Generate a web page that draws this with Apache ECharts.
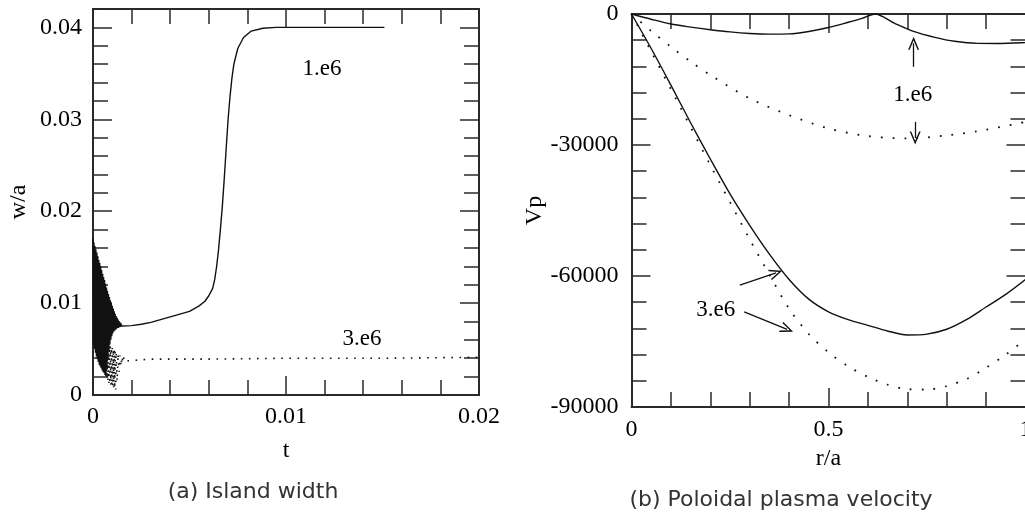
<!DOCTYPE html>
<html>
<head>
<meta charset="utf-8">
<script src="https://cdn.jsdelivr.net/npm/echarts@6/dist/echarts.min.js"></script>
<style>
html,body{margin:0;padding:0;background:#fff;}
#chart{width:1025px;height:517px;}
</style>
</head>
<body>
<div id="chart"></div>
<script>
// ---------- DATA ----------
// (a) Island width: w/a versus t
const islandXTicks = [0, 0.01, 0.02];
const islandYTicks = [0, 0.01, 0.02, 0.03, 0.04];
const t1e6 = [0,0.000025,0.00005,0.000075,0.0001,0.000125,0.00015,0.000175,0.0002,0.000225,0.00025,0.000275,0.0003,0.000325,0.00035,0.000375,
  0.0004,0.000425,0.00045,0.000475,0.0005,0.000525,0.00055,0.000575,0.0006,0.000625,0.00065,0.000675,0.0007,0.000725,0.00075,0.000775,
  0.0008,0.000825,0.00085,0.000875,0.0009,0.000925,0.00095,0.000975,0.001,0.001025,0.00105,0.001075,0.0011,0.001125,0.00115,0.001175,
  0.0012,0.001225,0.00125,0.001275,0.0013,0.001325,0.00135,0.001375,0.0014,0.001425,0.00145,0.001475,0.0015,0.001525,0.00155,0.001575,0.0016,
  0.002,0.0025,0.003,0.0035,0.004,0.0045,0.005,0.0055,0.0058,0.006,0.0062,0.0063,0.0064,0.0065,0.0066,0.0067,0.0068,0.0069,0.007,0.0071,0.0072,0.0073,0.0075,0.0078,0.0082,0.0088,0.0095,0.012,0.0151];
const w1e6 = [0.0170,0.0055,0.0166,0.0050,0.0162,0.0046,0.01585,0.0042,0.0155,0.0039,0.0151,0.0036,0.0147,0.0033,0.01435,0.0031,
  0.0140,0.0029,0.0136,0.0027,0.0132,0.0025,0.01285,0.0024,0.0125,0.0022,0.0121,0.0021,0.0117,0.0030,0.01135,0.0040,
  0.0110,0.0048,0.01065,0.0055,0.0103,0.0060,0.0100,0.0064,0.0097,0.0067,0.0094,0.0069,0.0091,0.0070,0.00885,0.0071,
  0.0086,0.0072,0.0084,0.0073,0.0082,0.0073,0.00805,0.0074,0.0079,0.0074,0.0078,0.0075,0.0077,0.0075,0.0076,0.0075,0.0075,
  0.00755,0.0077,0.0079,0.0082,0.0085,0.0088,0.0091,0.0097,0.0102,0.0108,0.0116,0.0125,0.0139,0.0157,0.0180,0.0205,0.0235,0.0268,0.0300,0.0325,0.0345,0.0360,0.0377,0.0389,0.0396,0.0399,0.0400,0.0400,0.0400];
const t3e6 = [0.0004,0.000425,0.00045,0.000475,0.0005,0.000525,0.00055,0.000575,0.0006,0.000625,0.00065,0.000675,0.0007,0.000725,0.00075,0.000775,0.0008,0.000825,0.00085,0.000875,0.0009,0.000925,0.00095,0.000975,0.001,0.001025,0.00105,0.001075,0.0011,0.001125,0.00115,0.001175,0.0012,0.00125,0.0013,0.00135,0.0014,0.00145,0.0015,0.00155,0.0016,0.00165,0.00175,0.003,0.006,0.01,0.015,0.02];
const w3e6 = [0.0060,0.0032,0.0059,0.0030,0.0058,0.0027,0.0058,0.0025,0.0057,0.0022,0.0057,0.0020,0.0056,0.0017,0.0056,0.0015,0.0055,0.0013,0.0054,0.0012,0.0053,0.0011,0.0052,0.0010,0.0051,0.0009,0.0050,0.0008,0.0049,0.0007,0.0048,0.0006,0.0047,0.0015,0.0045,0.0025,0.0043,0.0031,0.0042,0.0035,0.0041,0.0037,0.0039,0.0039,0.0039,0.0040,0.0040,0.0041];

// (b) Poloidal plasma velocity: Vp versus r/a
const velXTicks = [0, 0.5, 1];
const velYTicks = [-90000, -60000, -30000, 0];
const rSolid1e6 = [0,0.05,0.1,0.15,0.2,0.25,0.3,0.35,0.4,0.45,0.5,0.55,0.585,0.618,0.668,0.718,0.77,0.82,0.878,0.93,0.988,1.0];
const vSolid1e6 = [0,-1200,-2300,-3000,-3600,-4100,-4450,-4600,-4550,-4000,-3100,-1900,-1000,0,-2140,-4050,-5350,-6250,-6720,-6750,-6570,-6550];
const rDot1e6 = [0,0.05,0.1,0.15,0.2,0.3,0.4,0.5,0.6,0.7,0.8,0.9,1.0];
const vDot1e6 = [0,-3900,-7490,-10900,-13980,-19330,-23150,-26200,-27960,-28500,-27800,-26500,-24700];
const rGrid = [0,0.05,0.1,0.15,0.2,0.25,0.3,0.35,0.4,0.45,0.5,0.55,0.6,0.65,0.7,0.75,0.8,0.85,0.9,0.95,1.0];
const vSolid3e6 = [0,-7900,-16300,-24900,-33200,-41200,-48400,-55000,-60800,-65300,-68200,-70000,-71300,-72600,-73500,-73300,-72200,-70000,-67100,-64200,-60800];
const vDot3e6 = [0,-8600,-17200,-25900,-34600,-43100,-51600,-59700,-67500,-73300,-77500,-80700,-83100,-84900,-85900,-86000,-85200,-83600,-81000,-78000,-74500];

// annotation anchors (data units)
const labelA1e6 = [0.01187, 0.0355];
const labelA3e6 = [0.01394, 0.0061];
const labelB1e6 = [0.714, -18560];
const labelB3e6 = [0.214, -67840];
const arrowsB1e6 = [[[0.716, -12100], [0.716, -6700]], [[0.72, -24700], [0.72, -28400]]];
const arrowsB3e6 = [[[0.275, -62100], [0.367, -59300]], [[0.286, -68200], [0.395, -72200]]];

// ---------- CHART ----------
const SERIF = 'Liberation Serif';
const INK = '#111';
const FRAME = '#2a2a2a';
const fmt = v => String(+(+v).toFixed(6));
const zip = (a, b) => a.map((x, i) => [x, b[i]]);

function axis(o) {
  const labelBase = { show: false, color: '#000', fontFamily: SERIF, fontSize: 24, formatter: fmt };
  const r = Object.assign({
    type: 'value',
    axisLine: { show: true, onZero: false, lineStyle: { color: FRAME, width: 2 } },
    axisTick: { show: true, inside: true, length: 19, lineStyle: { color: FRAME, width: 1.5 } },
    splitLine: { show: false },
    nameTextStyle: { color: '#000', fontFamily: SERIF, fontSize: 24 }
  }, o);
  r.axisLabel = o.axisLabel ? Object.assign(labelBase, o.axisLabel, { show: true }) : labelBase;
  return r;
}
const minor = { show: true, splitNumber: 5, length: 15, lineStyle: { color: FRAME, width: 1.5 } };
const shortTick = { show: true, inside: true, length: 15, lineStyle: { color: FRAME, width: 1.5 } };
const chevron = 'path://M0,10 L5,0 L10,10 L8.6,10 L5,2.8 L1.4,10 Z';

function textMark(coord, text) {
  return {
    symbol: 'rect', symbolSize: 1, silent: true,
    itemStyle: { color: 'rgba(0,0,0,0)' },
    label: { show: true, position: 'inside', color: '#000', fontFamily: SERIF, fontSize: 23, formatter: text },
    data: [{ coord: coord }]
  };
}
function arrowMarks(list) {
  return {
    silent: true, symbol: ['none', chevron], symbolSize: [11, 13],
    lineStyle: { type: 'solid', color: INK, width: 1.3 },
    label: { show: false }, emphasis: { disabled: true },
    data: list.map(p => [{ coord: p[0] }, { coord: p[1] }])
  };
}

const chart = echarts.init(document.getElementById('chart'), null, { renderer: 'canvas' });
chart.setOption({
  animation: false,
  backgroundColor: '#fff',
  grid: [
    { left: 93, top: 9, width: 386, height: 386, outerBoundsMode: 'none', containLabel: false },
    { left: 631.5, top: 14, width: 394, height: 393, outerBoundsMode: 'none', containLabel: false }
  ],
  xAxis: [
    axis({ gridIndex: 0, position: 'bottom', min: islandXTicks[0], max: islandXTicks[2], interval: 0.01, minorTick: minor,
      axisLabel: { margin: 10 }, name: 't', nameLocation: 'middle', nameGap: 44 }),
    axis({ gridIndex: 0, position: 'top', min: islandXTicks[0], max: islandXTicks[2], interval: 0.01, minorTick: minor }),
    axis({ gridIndex: 1, position: 'bottom', min: velXTicks[0], max: velXTicks[2], interval: 0.5, minorTick: minor,
      axisLabel: { margin: 11 }, name: 'r/a', nameLocation: 'middle', nameGap: 40 }),
    axis({ gridIndex: 1, position: 'top', min: velXTicks[0], max: velXTicks[2], interval: 0.5, minorTick: minor })
  ],
  yAxis: [
    axis({ gridIndex: 0, position: 'left', min: islandYTicks[0], max: 0.042, interval: 0.01,
      axisLabel: { margin: 11, showMaxLabel: false, formatter: v => islandYTicks.some(t => Math.abs(t - v) < 1e-9) ? fmt(v) : '' },
      name: 'w/a', nameLocation: 'middle', nameGap: 62, nameRotate: 90 }),
    axis({ gridIndex: 0, position: 'left', min: 0, max: 0.042, interval: 0.002, axisTick: shortTick }),
    axis({ gridIndex: 0, position: 'right', min: 0, max: 0.042, interval: 0.01 }),
    axis({ gridIndex: 0, position: 'right', min: 0, max: 0.042, interval: 0.002, axisTick: shortTick }),
    axis({ gridIndex: 1, position: 'left', min: velYTicks[0], max: velYTicks[3], interval: 30000, minorTick: minor,
      axisLabel: { margin: 13 }, name: 'Vp', nameLocation: 'middle', nameGap: 70, nameRotate: 90 }),
    axis({ gridIndex: 1, position: 'right', min: velYTicks[0], max: velYTicks[3], interval: 30000, minorTick: minor })
  ],
  series: [
    { type: 'line', name: '1.e6', xAxisIndex: 0, yAxisIndex: 0, data: zip(t1e6, w1e6), showSymbol: false, symbol: 'none',
      lineStyle: { color: INK, width: 1.4 }, markPoint: textMark(labelA1e6, '1.e6') },
    { type: 'line', name: '3.e6', xAxisIndex: 0, yAxisIndex: 0, data: zip(t3e6, w3e6), showSymbol: false, symbol: 'none',
      lineStyle: { color: INK, width: 1.6, type: [1.6, 6.5] }, markPoint: textMark(labelA3e6, '3.e6') },
    { type: 'line', name: '1.e6 solid', xAxisIndex: 2, yAxisIndex: 4, data: zip(rSolid1e6, vSolid1e6), showSymbol: false, symbol: 'none',
      smooth: 0.3, lineStyle: { color: INK, width: 1.4 }, markPoint: textMark(labelB1e6, '1.e6'), markLine: arrowMarks(arrowsB1e6) },
    { type: 'line', name: '1.e6 dotted', xAxisIndex: 2, yAxisIndex: 4, data: zip(rDot1e6, vDot1e6), showSymbol: false, symbol: 'none',
      smooth: 0.3, lineStyle: { color: INK, width: 1.8, type: [1.8, 10] } },
    { type: 'line', name: '3.e6 solid', xAxisIndex: 2, yAxisIndex: 4, data: zip(rGrid, vSolid3e6), showSymbol: false, symbol: 'none',
      smooth: 0.3, lineStyle: { color: INK, width: 1.4 }, markPoint: textMark(labelB3e6, '3.e6'), markLine: arrowMarks(arrowsB3e6) },
    { type: 'line', name: '3.e6 dotted', xAxisIndex: 2, yAxisIndex: 4, data: zip(rGrid, vDot3e6), showSymbol: false, symbol: 'none',
      smooth: 0.3, lineStyle: { color: INK, width: 1.8, type: [1.8, 10] } }
  ],
  graphic: [
    { type: 'text', x: 253, y: 492, silent: true,
      style: { text: '(a) Island width', fontFamily: 'DejaVu Sans', fontSize: 22, fill: '#333', align: 'center', verticalAlign: 'middle' } },
    { type: 'text', x: 781, y: 500, silent: true,
      style: { text: '(b) Poloidal plasma velocity', fontFamily: 'DejaVu Sans', fontSize: 22, fill: '#333', align: 'center', verticalAlign: 'middle' } }
  ]
});
</script>
</body>
</html>
